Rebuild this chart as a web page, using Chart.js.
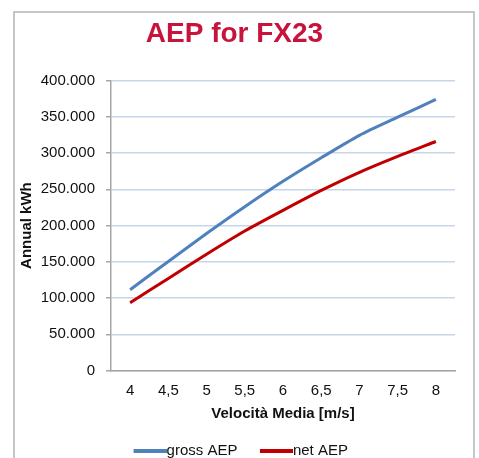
<!DOCTYPE html>
<html>
<head>
<meta charset="utf-8">
<script src="https://cdn.jsdelivr.net/npm/chart.js@4/dist/chart.umd.min.js"></script>
<style>
  html, body { margin: 0; padding: 0; background: #fff; overflow: hidden; }
  #wrap { width: 479px; height: 458px; }
</style>
</head>
<body>
<div id="wrap"><canvas id="aepChart" width="479" height="458"></canvas></div>
<script>
// AEP curves vs mean wind speed

const speeds = ['4', '4,5', '5', '5,5', '6', '6,5', '7', '7,5', '8'];
const grossAEP = [111500, 150500, 189000, 226000, 261000, 293500, 324500, 349500, 374000];
const netAEP = [93500, 127000, 160500, 192500, 221000, 248500, 273500, 295500, 316000];
const yTickLabels = ['0', '50.000', '100.000', '150.000', '200.000', '250.000', '300.000', '350.000', '400.000'];

const BLUE = '#4f81bd';
const RED = '#c00000';
const FONT = 'Arial, "Liberation Sans", sans-serif';

// legend sample: a line on the right side of a small canvas, touching the text
function legendLine(color) {
  const c = document.createElement('canvas');
  c.width = 53;
  c.height = 4;
  const g = c.getContext('2d');
  g.fillStyle = color;
  g.fillRect(20, 0, 33, 4);
  return c;
}

const frame = {
  id: 'frame',
  beforeDraw(chart) {
    const ctx = chart.ctx;
    ctx.save();
    ctx.strokeStyle = '#b4b4b4';
    ctx.lineWidth = 1.5;
    ctx.strokeRect(14, 12, 460, 470);
    ctx.restore();
  }
};

const ctx = document.getElementById('aepChart').getContext('2d');
new Chart(ctx, {
  type: 'line',
  data: {
    labels: speeds,
    datasets: [
      {
        label: 'gross AEP',
        data: grossAEP,
        borderColor: BLUE,
        backgroundColor: BLUE,
        borderWidth: 3,
        pointRadius: 0,
        tension: 0.25
      },
      {
        label: 'net AEP',
        data: netAEP,
        borderColor: RED,
        backgroundColor: RED,
        borderWidth: 3,
        pointRadius: 0,
        tension: 0.25
      }
    ]
  },
  options: {
    responsive: false,
    animation: false,
    layout: {
      padding: { top: 12, left: 14, right: 24, bottom: -10 }
    },
    plugins: {
      title: {
        display: true,
        text: 'AEP for FX23',
        color: '#c8143c',
        font: { family: FONT, size: 28, weight: 'bold' },
        padding: { top: 5, bottom: 30 }
      },
      legend: {
        position: 'bottom',
        labels: {
          color: '#111',
          font: { family: FONT, size: 15 },
          usePointStyle: true,
          pointStyleWidth: 38,
          padding: 10,
          generateLabels(chart) {
            const items = Chart.defaults.plugins.legend.labels.generateLabels(chart);
            items.forEach((it, i) => {
              it.pointStyle = legendLine(i === 0 ? BLUE : RED);
            });
            return items;
          }
        }
      },
      tooltip: { enabled: false }
    },
    scales: {
      x: {
        offset: true,
        grid: { display: false, drawTicks: false },
        border: { color: '#a6a6a6', width: 1.5 },
        ticks: {
          color: '#111',
          font: { family: FONT, size: 15 },
          padding: 11,
          maxRotation: 0
        },
        title: {
          display: true,
          text: 'Velocità Media [m/s]',
          color: '#111',
          font: { family: FONT, size: 15, weight: 'bold' },
          padding: { top: 5, bottom: 10 }
        },
        afterFit(scale) { scale.height = 62.5; }
      },
      y: {
        min: 0,
        max: 400000,
        grid: {
          color: '#c5d6ea',
          lineWidth: 1.5,
          tickColor: '#a6a6a6',
          tickLength: 5
        },
        border: { color: '#a6a6a6', width: 1.5 },
        ticks: {
          stepSize: 50000,
          color: '#111',
          font: { family: FONT, size: 15 },
          padding: 11,
          callback: (v, i) => yTickLabels[i]
        },
        title: {
          display: true,
          text: 'Annual kWh',
          color: '#111',
          font: { family: FONT, size: 15, weight: 'bold' },
          padding: { top: 4, bottom: 0 }
        },
        afterFit(scale) { scale.width = 97; }
      }
    }
  },
  plugins: [frame]
});
</script>
</body>
</html>
